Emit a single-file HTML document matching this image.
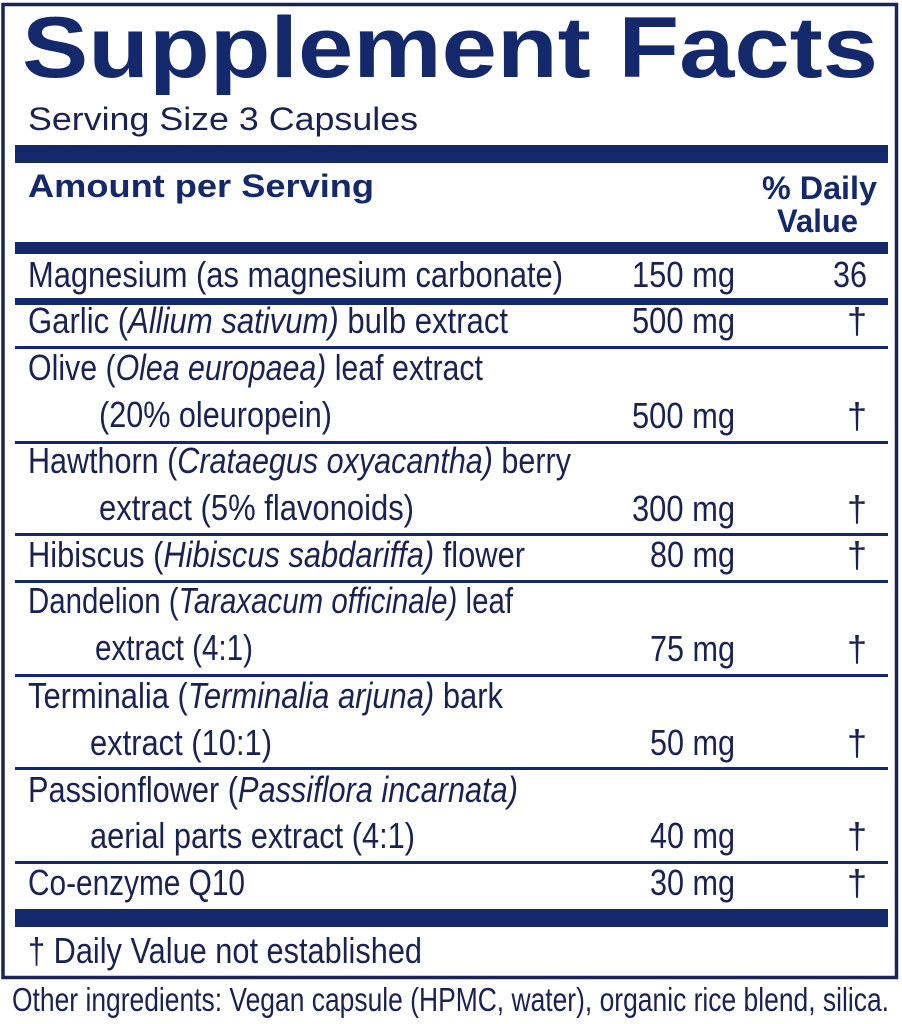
<!DOCTYPE html>
<html>
<head>
<meta charset="utf-8">
<style>
html,body{margin:0;padding:0;background:#fff;}
svg{display:block;}
text{font-family:"Liberation Sans",Arial,sans-serif;}
.b{fill:#1b2150;font-size:36px;}
.h{fill:#14296b;font-weight:bold;font-size:32px;}
</style>
</head>
<body>
<svg width="902" height="1024" viewBox="0 0 902 1024" xmlns="http://www.w3.org/2000/svg">
<rect x="0" y="0" width="902" height="1024" fill="#fff"/>
<!-- outer border -->
<rect x="3" y="4.5" width="893.5" height="973" fill="none" stroke="#1b2458" stroke-width="3.5"/>
<!-- title -->
<text x="22" y="77" fill="#14296b" font-weight="bold" font-size="86" textLength="856" lengthAdjust="spacingAndGlyphs">Supplement Facts</text>
<text x="28" y="130" fill="#1b2150" font-size="32" textLength="390" lengthAdjust="spacingAndGlyphs">Serving Size 3 Capsules</text>
<!-- bars -->
<g fill="#14296b">
<rect x="15" y="145" width="873" height="18"/>
<rect x="15" y="242" width="873" height="12"/>
<rect x="15" y="298" width="873" height="7"/>
<rect x="15" y="346" width="873" height="3"/>
<rect x="15" y="441" width="873" height="3"/>
<rect x="15" y="533" width="873" height="3"/>
<rect x="15" y="580" width="873" height="3"/>
<rect x="15" y="674" width="873" height="3"/>
<rect x="15" y="767" width="873" height="3"/>
<rect x="15" y="861" width="873" height="3"/>
<rect x="15" y="909" width="873" height="18"/>
</g>
<!-- header -->
<text class="h" x="28" y="197" textLength="346" lengthAdjust="spacingAndGlyphs">Amount per Serving</text>
<text class="h" x="762" y="199" textLength="115" lengthAdjust="spacingAndGlyphs">% Daily</text>
<text class="h" x="777" y="232" textLength="81" lengthAdjust="spacingAndGlyphs">Value</text>
<!-- rows -->
<text class="b" x="28" y="287" textLength="535" lengthAdjust="spacingAndGlyphs">Magnesium (as magnesium carbonate)</text>
<text class="b" x="735" y="287" text-anchor="end" textLength="103" lengthAdjust="spacingAndGlyphs">150 mg</text>
<text class="b" x="867" y="287" text-anchor="end" textLength="34" lengthAdjust="spacingAndGlyphs">36</text>

<text class="b" x="28" y="333" textLength="480" lengthAdjust="spacingAndGlyphs">Garlic (<tspan font-style="italic">Allium sativum)</tspan> bulb extract</text>
<text class="b" x="735" y="333" text-anchor="end" textLength="103" lengthAdjust="spacingAndGlyphs">500 mg</text>
<text class="b" x="857" y="333" text-anchor="middle">†</text>

<text class="b" x="28" y="380" textLength="455" lengthAdjust="spacingAndGlyphs">Olive (<tspan font-style="italic">Olea europaea)</tspan> leaf extract</text>
<text class="b" x="99" y="427" textLength="233" lengthAdjust="spacingAndGlyphs">(20% oleuropein)</text>
<text class="b" x="735" y="428" text-anchor="end" textLength="103" lengthAdjust="spacingAndGlyphs">500 mg</text>
<text class="b" x="857" y="428" text-anchor="middle">†</text>

<text class="b" x="28" y="473" textLength="543" lengthAdjust="spacingAndGlyphs">Hawthorn (<tspan font-style="italic">Crataegus oxyacantha)</tspan> berry</text>
<text class="b" x="99" y="520" textLength="315" lengthAdjust="spacingAndGlyphs">extract (5% flavonoids)</text>
<text class="b" x="735" y="521" text-anchor="end" textLength="103" lengthAdjust="spacingAndGlyphs">300 mg</text>
<text class="b" x="857" y="521" text-anchor="middle">†</text>

<text class="b" x="28" y="567" textLength="497" lengthAdjust="spacingAndGlyphs">Hibiscus (<tspan font-style="italic">Hibiscus sabdariffa)</tspan> flower</text>
<text class="b" x="735" y="567" text-anchor="end" textLength="85" lengthAdjust="spacingAndGlyphs">80 mg</text>
<text class="b" x="857" y="567" text-anchor="middle">†</text>

<text class="b" x="28" y="613" textLength="485" lengthAdjust="spacingAndGlyphs">Dandelion (<tspan font-style="italic">Taraxacum officinale)</tspan> leaf</text>
<text class="b" x="95" y="660" textLength="158" lengthAdjust="spacingAndGlyphs">extract (4:1)</text>
<text class="b" x="735" y="661" text-anchor="end" textLength="85" lengthAdjust="spacingAndGlyphs">75 mg</text>
<text class="b" x="857" y="661" text-anchor="middle">†</text>

<text class="b" x="28" y="708" textLength="475" lengthAdjust="spacingAndGlyphs">Terminalia (<tspan font-style="italic">Terminalia arjuna)</tspan> bark</text>
<text class="b" x="90" y="755" textLength="182" lengthAdjust="spacingAndGlyphs">extract (10:1)</text>
<text class="b" x="735" y="755" text-anchor="end" textLength="85" lengthAdjust="spacingAndGlyphs">50 mg</text>
<text class="b" x="857" y="755" text-anchor="middle">†</text>

<text class="b" x="28" y="802" textLength="490" lengthAdjust="spacingAndGlyphs">Passionflower (<tspan font-style="italic">Passiflora incarnata)</tspan></text>
<text class="b" x="90" y="848" textLength="325" lengthAdjust="spacingAndGlyphs">aerial parts extract (4:1)</text>
<text class="b" x="735" y="848" text-anchor="end" textLength="85" lengthAdjust="spacingAndGlyphs">40 mg</text>
<text class="b" x="857" y="848" text-anchor="middle">†</text>

<text class="b" x="28" y="895" textLength="217" lengthAdjust="spacingAndGlyphs">Co-enzyme Q10</text>
<text class="b" x="735" y="895" text-anchor="end" textLength="85" lengthAdjust="spacingAndGlyphs">30 mg</text>
<text class="b" x="857" y="895" text-anchor="middle">†</text>

<text class="b" x="28" y="963" textLength="394" lengthAdjust="spacingAndGlyphs">† Daily Value not established</text>

<text x="12" y="1011" fill="#1b2150" font-size="33" textLength="877" lengthAdjust="spacingAndGlyphs">Other ingredients: Vegan capsule (HPMC, water), organic rice blend, silica.</text>
</svg>
</body>
</html>
